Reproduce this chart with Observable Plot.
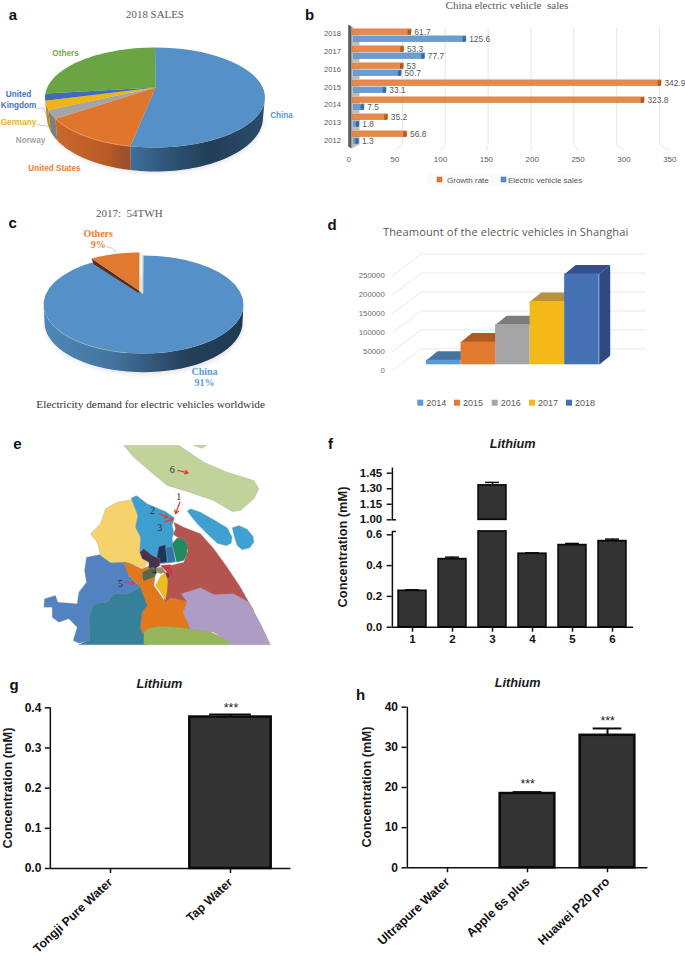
<!DOCTYPE html>
<html><head><meta charset="utf-8">
<script src="https://cdn.jsdelivr.net/npm/d3@7"></script>
<script src="https://cdn.jsdelivr.net/npm/@observablehq/plot@0.6"></script>
<style>
html,body{margin:0;padding:0;background:#fff}
#page{position:relative;width:685px;height:958px;overflow:hidden;background:#fff}
#page svg{position:absolute;overflow:visible;background:transparent}
.t{position:absolute;white-space:pre;line-height:1;transform:translate(-50%,-50%)}
</style></head><body><div id="page"></div>
<script>
// ---------- data ----------
const salesCountries = ["China","United States","Norway","Germany","United Kingdom","Others"];
const salesShares = [53.6,14.4,3,3,2.3,23.7];
const years = [2018,2017,2016,2015,2014,2013,2012];
const growthRate = [61.7,53.3,53,342.9,323.8,35.2,56.8];
const evSales = [125.6,77.7,50.7,33.1,7.5,1.8,1.3];
const demandLabels = ["China","Others"];
const demandShares = [91,9];
const shanghaiYears = [2014,2015,2016,2017,2018];
const shanghaiAmount = [12000,60000,106000,167000,240000];
const shanghaiTicks = [0,50000,100000,150000,200000,250000];
const siteLabels = ["1","2","3","4","5","6"];
const siteMean = [0.236,0.442,1.332,0.477,0.533,0.559];
const siteErr = [0.243,0.455,1.361,0.483,0.544,0.572];
const waterLabels = ["Tongji Pure Water","Tap Water"];
const waterMean = [0,0.377];
const waterErr = [0,0.3835];
const phoneLabels = ["Ultrapure Water","Apple 6s plus","Huawei P20 pro"];
const phoneMean = [0,18.5,33];
const phoneErr = [0,18.85,34.7];

// map outlines (map units)
const mapChongming=[[370,45],[535,45],[610,95],[680,125],[760,150],[775,175],[760,205],[720,240],[695,243],[640,210],[560,183],[500,165],[440,115],[400,80]];
const mapTopIslet=[[580,45],[618,45],[605,53]];
const mapChangxing=[[560,242],[570,235],[600,245],[640,268],[680,292],[695,320],[692,338],[678,346],[650,338],[620,310],[590,280]];
const mapHengsha=[[695,292],[715,285],[740,296],[758,318],[760,335],[748,352],[725,358],[710,345],[702,320]];
const mapBaoshan=[[392,203],[408,195],[440,220],[495,243],[522,262],[515,285],[520,305],[515,325],[525,395],[480,400],[440,375],[418,368],[420,320],[405,290],[412,255]];
const mapQingpu=[[258,380],[300,372],[340,390],[400,390],[385,435],[420,470],[385,490],[340,490],[320,515],[280,520],[265,560],[268,630],[235,638],[218,630],[230,590],[205,565],[175,575],[155,560],[155,530],[130,530],[132,505],[165,495],[172,515],[230,520],[235,485],[258,455],[252,420]];
const mapJiading=[[395,208],[412,255],[405,290],[420,320],[418,365],[445,395],[430,412],[405,405],[375,395],[330,397],[300,375],[290,335],[270,310],[300,280],[315,235],[350,215]];
const mapSongjiang=[[250,540],[340,470],[420,460],[450,525],[430,600],[442,643],[235,643],[260,630]];
const mapJinshan=[[430,643],[430,590],[480,560],[560,570],[620,600],[665,620],[698,643]];
const mapPudong=[[520,275],[550,290],[600,310],[640,355],[680,410],[720,470],[745,515],[760,540],[560,540],[490,520],[497,460],[490,440],[505,420],[510,405],[550,395],[562,360],[548,330],[518,312],[525,295]];
const mapFengxian=[[542,490],[600,472],[640,492],[700,490],[745,515],[780,580],[810,643],[698,643],[640,605],[568,595],[548,545],[558,512]];
const mapMinhang=[[370,398],[385,398],[425,415],[450,405],[425,452],[465,432],[460,465],[495,515],[510,502],[558,512],[548,545],[568,595],[525,590],[480,587],[442,595],[425,610],[420,590],[425,545],[440,525],[420,470],[385,435]];
const mapYangpu=[[515,340],[530,322],[550,325],[560,345],[560,370],[550,390],[528,395],[520,360]];
const mapHongkou=[[495,352],[515,348],[525,392],[503,397]];
const mapZhabei=[[470,375],[475,348],[495,343],[498,370],[500,395],[475,398],[470,385]];
const mapPutuo=[[418,365],[430,355],[455,375],[478,385],[478,405],[460,418],[445,415],[445,395],[425,385]];
const mapChangning=[[425,425],[455,410],[470,425],[460,440],[428,452]];
const mapXuhui=[[457,413],[485,410],[495,425],[480,430],[470,425]];
const mapJingan=[[480,405],[510,402],[520,430],[510,440],[495,420]];
const mapHuangpu=[[492,425],[507,428],[507,442],[495,442]];
const mapMinhangSouth=[[482,435],[495,428],[502,450],[500,480],[495,510],[480,485],[465,465]];
const mapSiteLabels=[["6",515,118],["1",535,198],["2",456,242],["3",478,293],["5",360,460],["4",461,420]];
const mapSiteArrows=[[532,120,563,127],[538,215,525,250],[476,250,502,261],[492,275,517,265],[376,456,402,458]];

// ---------- helpers ----------
const page=document.getElementById("page");
function put(svg,b){svg.style.left=b.x+"px";svg.style.top=b.y+"px";page.appendChild(svg);}
function txt(s,x,y,css,rot){const d=document.createElement("div");d.className="t";d.textContent=s;
  d.style.cssText=`left:${x}px;top:${y}px;${css}`+(rot?`;transform:translate(-50%,-50%) rotate(${rot}deg)`:"");page.appendChild(d);}
function pagePlot(b,marks){put(Plot.plot({width:b.w,height:b.h,margin:0,
  x:{domain:[b.x,b.x+b.w],range:[0,b.w],axis:null},y:{domain:[b.y,b.y+b.h],range:[0,b.h],axis:null},marks}),b);}
const poly=(pts,o)=>Plot.line(pts,{x:d=>d[0],y:d=>d[1],stroke:"none",curve:"linear",...o});
const grad=(id,stops)=>()=>{const g=d3.create("svg:linearGradient").attr("id",id);
  stops.forEach(([o,c])=>g.append("stop").attr("offset",o).attr("stop-color",c));
  const w=d3.create("svg:defs");w.node().appendChild(g.node());return w.node();};
function pie3d({values,k=1,cx,cy,rx,ry,ax,ay,cy2,rx2,ry2}){
  const rad=a=>a*Math.PI/180, total=d3.sum(values);
  const top=a=>[cx+rx*Math.sin(rad(a)),cy-ry*Math.cos(rad(a))];
  const low=a=>[cx+rx2*Math.sin(rad(a)),cy2-ry2*Math.cos(rad(a))];
  const arc=(f,a,b)=>d3.range(41).map(i=>f(a+(b-a)*i/40));
  const first=values[0]/total*360;
  const warp=a=>a<=first?a*k:first*k+(a-first)*(360-first*k)/(360-first);
  let c=0;
  const slices=values.map(v=>{const a=warp(c);c+=v/total*360;const b=warp(c);
    const w0=Math.max(a,90),w1=Math.min(b,270);
    return {a,b,top:[[ax,ay],...arc(top,a,b)],
      wall:w0<w1?[...arc(top,w0,w1),...arc(low,w1,w0)]:null};});
  return {slices,top,low,arc};
}
const sansB="font-family:'Liberation Sans';font-weight:bold;";
const serif="font-family:'Liberation Serif';";

// ---------- panel a ----------
{
  const b={x:0,y:20,w:300,h:170};
  const p=pie3d({values:salesShares,cx:154.5,cy:97,rx:110,ry:50,ax:155,ay:87,cy2:117,rx2:108,ry2:54});
  const tops=["#5590C6","#E0762E","#A5A5A5","#F2B50F","#3F6DB8","#6AA443"];
  const walls=["url(#wa0)","url(#wa1)","#7f7f7f","#bf8f0a","#2f5390","#4f7d32"];
  const low=p.arc(p.low,0,360).map(([x,y])=>[x+1,y+2]);
  const rows=[["China",281,115,"#5B9BD5"],["Others",65,53.3,"#70AD47"],["United",18,94,"#4472C4"],["Kingdom",18,105.3,"#4472C4"],["Germany",18,122,"#E9B01E"],["Norway",30,140,"#A5A5A5"],["United States",54,168.3,"#ED7D31"]];
  pagePlot(b,[
    grad("wa0",[[0,"#3f6e9b"],[.3,"#2d5374"],[.6,"#223e58"],[1,"#2a4c6b"]]),
    grad("wa1",[[0,"#c9692c"],[.7,"#b85a25"],[.85,"#a6522a"],[1,"#9a4f2c"]]),
    poly(low,{fill:"#e6e6e6",imageFilter:"blur(2px)"}),
    ...p.slices.flatMap((s,i)=>s.wall?[poly(s.wall,{fill:walls[i]})]:[]),
    ...p.slices.map((s,i)=>poly(s.top,{fill:tops[i]})),
    poly(p.arc(p.top,193,245),{stroke:"#F2935A",strokeWidth:1}),
    poly([[36,107.7],[43.3,107.7],[46.7,116.7]],{stroke:"#A5A5A5",strokeWidth:.6}),
    poly([[36.7,124],[45,125.3],[50,126.7]],{stroke:"#A5A5A5",strokeWidth:.6}),
    Plot.text(rows,{x:d=>d[1],y:d=>d[2],text:d=>d[0],fill:d=>d[3],fontFamily:"Liberation Sans",fontWeight:"bold",fontSize:8.2})
  ]);
  txt("2018 SALES",155,14.3,serif+"font-size:10.9px;color:#595959");
}

// ---------- panel b ----------
{
  const b={x:300,y:0,w:385,h:200};
  const ticks=[0,50,100,150,200,250,300,350];
  const back=d=>359+d*300/350, front=d=>348.3+d*321/350;
  pagePlot(b,[
    Plot.ruleX(ticks.slice(1),{x:back,y1:28,y2:144.3,stroke:"#dcdfe8",strokeWidth:.8}),
    Plot.link(ticks.slice(1),{x1:back,x2:front,y1:144.3,y2:150,stroke:"#dcdfe8",strokeWidth:.8}),
    poly([[351,26],[359,30],[359,144],[351,148]],{fill:"#bdbdbd"}),
    poly([[347.7,24],[351,26],[351,148],[347.7,146]],{fill:"#5a5a5a"}),
    Plot.text(ticks,{x:front,y:()=>159.3,text:d=>String(d),fill:"#595959",fontFamily:"Liberation Sans",fontSize:8}),
    Plot.text(years,{x:()=>340.5,y:d=>33.3+(2018-d)*17.78,text:d=>String(d),textAnchor:"end",fill:"#595959",fontFamily:"Liberation Sans",fontSize:7.6}),
    Plot.rect([0],{x1:()=>427,x2:()=>577,y1:()=>173,y2:()=>185,fill:"#fafafa"}),
    Plot.rect(["#E07B39","#5B8FC7"],{x1:(d,i)=>i?501:437,x2:(d,i)=>i?506:442,y1:()=>177,y2:()=>182,fill:d=>d,stroke:(d,i)=>i?"#2E75B6":"#C55A11",strokeWidth:.5}),
    Plot.text(["Growth rate","Electric vehicle sales"],{x:(d,i)=>i?507.5:446.5,y:()=>179.7,text:d=>d,textAnchor:"start",fill:"#595959",fontFamily:"Liberation Sans",fontSize:8})
  ]);
  function series(vals,range,dy,main,light,edge,cap,labelGap){
    const rows=years.map((y,i)=>({y:String(y),v:vals[i]}));
    const ins={insetTop:5.9,insetBottom:5.8};
    put(Plot.plot({width:b.w,height:b.h,margin:0,
      x:{domain:[0,350],range:range.map(r=>r-b.x),axis:null},
      y:{domain:years.map(String),range:[26.35,147.5],axis:null,padding:0},
      marks:[
        Plot.barX(rows,{x1:()=>-4.5,x2:"v",y:"y",...ins,dy:dy-1.2,dx:.8,fill:light}),
        Plot.barX(rows,{x1:()=>-4.5,x2:"v",y:"y",...ins,dy,fill:main,stroke:edge,strokeWidth:.5,strokeOpacity:.6}),
        Plot.barX(rows,{x1:d=>d.v-3.5,x2:"v",y:"y",...ins,dy,fill:cap}),
        Plot.text(rows,{x:"v",y:"y",dy,dx:labelGap,text:d=>String(d.v),textAnchor:"start",fill:"#595959",fontFamily:"Liberation Sans",fontSize:8.4})
      ]}),b);
  }
  series(growthRate,[356,667.2],-3.5,"#E68A4C","#F0B48C","#C55A11","#B4581E",3);
  series(evSales,[357.3,659.4],3.5,"#6C9DD0","#A9C4E3","#2E75B6","#2F6AA5",3);
  txt("China electric vehicle  sales",507,5,serif+"font-size:11px;color:#595959");
}

// ---------- panel c ----------
{
  const b={x:0,y:220,w:300,h:175};
  const p=pie3d({values:demandShares,k:1.0113,cx:143,cy:304,rx:100,ry:49,ax:142.7,ay:293.3,cy2:322,rx2:99,ry2:49.7});
  const [china,others]=p.slices;
  const off=([x,y])=>[x-4,y-3];
  const orange=others.top.map(off);
  const L=orange[1], A=orange[0];
  const shadow=p.arc(p.low,0,360).map(([x,y])=>[x+1,y+2.5]);
  pagePlot(b,[
    grad("wc0",[[0,"#4f87b9"],[.35,"#43739e"],[.72,"#233f5a"],[1,"#1f3a52"]]),
    poly(shadow,{fill:"#e6e6e6",imageFilter:"blur(2px)"}),
    poly(china.wall,{fill:"url(#wc0)"}),
    poly(china.top,{fill:"#5590C6"}),
    poly(p.arc(p.top,190,240),{stroke:"#9fc4a8",strokeWidth:.8,strokeOpacity:.8}),
    poly([[142,255],[142,293]],{stroke:"#d5d5d5",strokeWidth:1.2}),
    poly([L,[L[0]+2.3,L[1]+5.7],[A[0],A[1]+2.4],A],{fill:"#5a2a1a"}),
    poly(orange,{fill:"#E07A30"}),
    poly([[106,246],[111.7,247.7],[116,252.3]],{stroke:"#A5A5A5",strokeWidth:.6}),
    Plot.text([[demandLabels[1],97.7,233.7,"#ED7D31"],["9%",97.7,244.3,"#ED7D31"],[demandLabels[0],204,371.7,"#5B9BD5"],["91%",204,382.7,"#5B9BD5"]],
      {x:d=>d[1],y:d=>d[2],text:d=>d[0],fill:d=>d[3],fontFamily:"Liberation Serif",fontWeight:"bold",fontSize:10})
  ]);
  txt("2017:  54TWH",129.3,213.3,serif+"font-size:11px;color:#595959");
  txt("Electricity demand for electric vehicles worldwide",150.7,405,serif+"font-size:11.3px;color:#333");
}

// ---------- panel d ----------
{
  const b={x:330,y:205,w:355,h:220};
  const fills=["#5B9BD5","#E07B30","#A5A5A5","#F3B918","#4472B4"];
  const topsC=["#44749f","#AE5A21","#7C7C7C","#B8923C","#344F8A"];
  const xU=px=>(px-426)/34.54, yU=p=>p/0.00037867;
  const dX=xU(426+11), dY=yU(9);
  const rows=shanghaiYears.map((y,i)=>({y,i,v:shanghaiAmount[i]}));
  const tx1=xU(391.7),tx2=xU(420.7),tx3=xU(645);
  const last=rows[4];
  put(Plot.plot({width:b.w,height:b.h,marginLeft:54.3,marginTop:0,marginRight:0,marginBottom:0,
    x:{domain:[0,5],range:[426-b.x,598.7-b.x],axis:null},
    y:{domain:[0,250000],range:[364.3-b.y,269.65-b.y],axis:null},
    marks:[
      Plot.link(shanghaiTicks,{x1:()=>tx1,x2:()=>tx2,y1:d=>d-yU(5.7),y2:d=>d+yU(16),stroke:"#dfe3ec",strokeWidth:.8}),
      Plot.link(shanghaiTicks,{x1:()=>tx2,x2:()=>tx3,y1:d=>d+yU(16),y2:d=>d+yU(16),stroke:"#dfe3ec",strokeWidth:.8}),
      Plot.axisY({anchor:"left",ticks:shanghaiTicks,tickSize:0,tickPadding:0,dy:5.7,tickFormat:d3.format("d"),label:null,fontFamily:"Liberation Sans",fontSize:7.8,color:"#6a6a6a"}),
      ...rows.map(r=>poly([[r.i,r.v],[r.i+dX,r.v+dY],[r.i+1+dX,r.v+dY],[r.i+1,r.v]],{fill:topsC[r.i]})),
      poly([[5,0],[5+dX,dY],[5+dX,last.v+dY],[5,last.v]],{fill:"#2F4A80"}),
      Plot.rect(rows,{x1:"i",x2:d=>d.i+1,y1:()=>0,y2:"v",fill:d=>fills[d.i]})
    ]}),b);
  const sw=[417.3,454,491.7,529,566];
  pagePlot({x:b.x,y:395,w:b.w,h:20},[
    Plot.rect(shanghaiYears,{x1:(d,i)=>sw[i],x2:(d,i)=>sw[i]+6,y1:()=>399.7,y2:()=>405.7,fill:(d,i)=>fills[i]}),
    Plot.text(shanghaiYears,{x:(d,i)=>sw[i]+8.5,y:()=>402.7,text:d=>String(d),textAnchor:"start",fill:"#595959",fontFamily:"Liberation Sans",fontSize:9})
  ]);
  txt("Theamount of the electric vehicles in Shanghai",505.7,231.7,"font-family:'Open Sans';font-size:11.1px;color:#595959;letter-spacing:.12px");
}

// ---------- panel e ----------
{
  const b={x:0,y:430,w:300,h:230};
  const regions=[[mapChongming,"#C1D29B"],[mapTopIslet,"#C1D29B"],[mapChangxing,"#3FA1D2"],[mapHengsha,"#3FA1D2"],[mapSongjiang,"#36809A"],[mapQingpu,"#5382C0"],[mapJinshan,"#97B65B"],[mapPudong,"#B5534F"],[mapFengxian,"#AE9CC4"],[mapJiading,"#F5D26A"],[mapBaoshan,"#3F9ED0"],[mapMinhang,"#E3771B"],[mapYangpu,"#1E8B5E"],[mapZhabei,"#1F3557"],[mapHongkou,"#2E75A8"],[mapPutuo,"#46344F"],[mapChangning,"#58684A"],[mapXuhui,"#9C8F5A"],[mapJingan,"#C83A48"],[mapHuangpu,"#8A2A3E"],[mapMinhangSouth,"#F0BC1C"]];
  put(Plot.plot({width:b.w,height:b.h,margin:0,
    x:{domain:[0,900],range:[0,300],axis:null},y:{domain:[0,690],range:[0,230],axis:null},
    marks:[
      ...regions.map(([pts,c])=>poly([...pts,pts[0]],{fill:c,stroke:"#9a9a8a",strokeWidth:.3})),
      Plot.arrow(mapSiteArrows,{x1:d=>d[0],y1:d=>d[1],x2:d=>d[2],y2:d=>d[3],stroke:"#E5392A",strokeWidth:1.2,headLength:5,insetEnd:0}),
      Plot.text(mapSiteLabels,{x:d=>d[1],y:d=>d[2],text:d=>d[0],fill:"#2a2a3a",fontFamily:"Liberation Serif",fontSize:10})
    ]}),b);
}

// ---------- panels f, g, h ----------
function barPanel(b,o){
  const rows=o.cats.map((c,i)=>({c,v:o.mean[i],e:o.err[i]})).filter(d=>d.v>0);
  const bw=(o.x1-o.x0)/o.cats.length;
  const ins=(bw-o.barW)/2, capIns=(bw-o.cap)/2;
  const axis={color:"#111",fontFamily:"Liberation Sans",fontWeight:"bold",strokeWidth:1.5,label:null};
  const marks=[
    ...o.axisSegments.map(([a,c])=>Plot.ruleX([o.cats[0]],{x:d=>d,dx:-bw/2,y1:()=>a,y2:()=>c,stroke:"#111",strokeWidth:1.5})),
    Plot.ruleY([0],{stroke:"#111",strokeWidth:1.5}),
    Plot.axisY({anchor:"left",ticks:o.ticks,tickSize:5,tickPadding:o.tickPad||4,tickFormat:o.fmt,fontSize:o.fs,...axis}),
    Plot.axisX({anchor:"bottom",tickSize:5,tickPadding:o.xPad,tickRotate:o.rot||0,fontSize:o.xfs||o.fs,...axis}),
    ...rows.map(d=>Plot.ruleX([d],{x:"c",y1:"v",y2:"e",stroke:"#0a0a0a",strokeWidth:o.errW})),
    ...rows.map(d=>Plot.tickY([d],{x:"c",y:"e",insetLeft:capIns,insetRight:capIns,stroke:"#0a0a0a",strokeWidth:o.errW})),
    ...(o.extra?o.extra(rows,ins,bw):[Plot.barY(rows,{x:"c",y1:()=>0,y2:"v",insetLeft:ins,insetRight:ins,fill:"#333",stroke:"#0a0a0a",strokeWidth:o.barS})])
  ];
  put(Plot.plot({width:b.w,height:b.h,marginLeft:o.x0-b.x,marginRight:b.x+b.w-o.x1,marginTop:o.top-b.y,marginBottom:b.y+b.h-o.base,
    x:{domain:o.cats,range:[o.x0-b.x,o.x1-b.x],padding:0,axis:null},
    y:{type:"linear",domain:o.domain,range:o.range.map(r=>r-b.y),axis:null},
    marks}),b);
}
barPanel({x:330,y:430,w:320,h:230},{
  cats:siteLabels,mean:siteMean,err:siteErr,x0:391.7,x1:633,top:467.3,base:626.7,
  domain:[0,0.6215,1,1.45],range:[626.7,531,519.3,472.7],
  axisSegments:[[0,0.6215],[1,1.5]],ticks:[0,.2,.4,.6,1,1.15,1.3,1.45],
  fmt:d=>d>=1?d3.format(".2f")(d):d3.format(".1f")(d),fs:11.5,xPad:3,tickPad:5,
  barW:28,barS:1.7,errW:1.5,cap:14,
  extra:(rows,ins)=>{
    const sh=rows.flatMap(d=>d.v>1?[{c:d.c,a:0,z:.6215},{c:d.c,a:1,z:d.v}]:[{c:d.c,a:0,z:d.v}]);
    return [Plot.barY(sh,{x:"c",y1:"a",y2:"z",insetLeft:ins,insetRight:ins,fill:"#333",stroke:"#0a0a0a",strokeWidth:1.7}),
      Plot.tickY([1,.6215],{x:()=>siteLabels[0],y:d=>d,insetRight:36,stroke:"#111",strokeWidth:1.5})];
  }
});
barPanel({x:0,y:670,w:320,h:288},{
  cats:waterLabels,mean:waterMean,err:waterErr,x0:49.85,x1:290.45,top:707.3,base:868,
  domain:[0,.4],range:[868,707.3],axisSegments:[[0,.4]],ticks:[0,.1,.2,.3,.4],
  fmt:d3.format(".1f"),fs:12,xfs:12.2,xPad:7,rot:-43,barW:81.7,barS:2.5,errW:2,cap:42
});
barPanel({x:340,y:670,w:320,h:288},{
  cats:phoneLabels,mean:phoneMean,err:phoneErr,x0:406.5,x1:647.4,top:706.7,base:867.3,
  domain:[0,40],range:[867.3,706.7],axisSegments:[[0,40]],ticks:[0,10,20,30,40],
  fmt:d3.format("d"),fs:12,xfs:12.4,xPad:7,rot:-43,barW:55,barS:2.5,errW:2,cap:29
});
const yl=sansB+"font-size:12.8px;color:#1a1a1a";
txt("Concentration (mM)",342.7,546.7,yl,-90);
txt("Concentration (mM)",8,788,yl,-90);
txt("Concentration (mM)",367.3,786.7,yl,-90);
const ti=sansB+"font-style:italic;font-size:12.7px;color:#1a1a1a";
txt("Lithium",512.7,444.3,ti);txt("Lithium",159.3,684,ti);txt("Lithium",517.7,683.3,ti);
const st="font-family:'Liberation Sans';font-size:12.5px;color:#222";
txt("***",231,708.4,st);txt("***",527.7,784.4,st);txt("***",607.7,721,st);
const pl=sansB+"font-size:15px;color:#111";
[["a",13,14],["b",309.5,14],["c",12.7,222],["d",332,224],["e",17.3,443],["f",330.5,443],["g",14,684],["h",360.7,694]].forEach(([s,x,y])=>txt(s,x,y,pl));
</script></body></html>
